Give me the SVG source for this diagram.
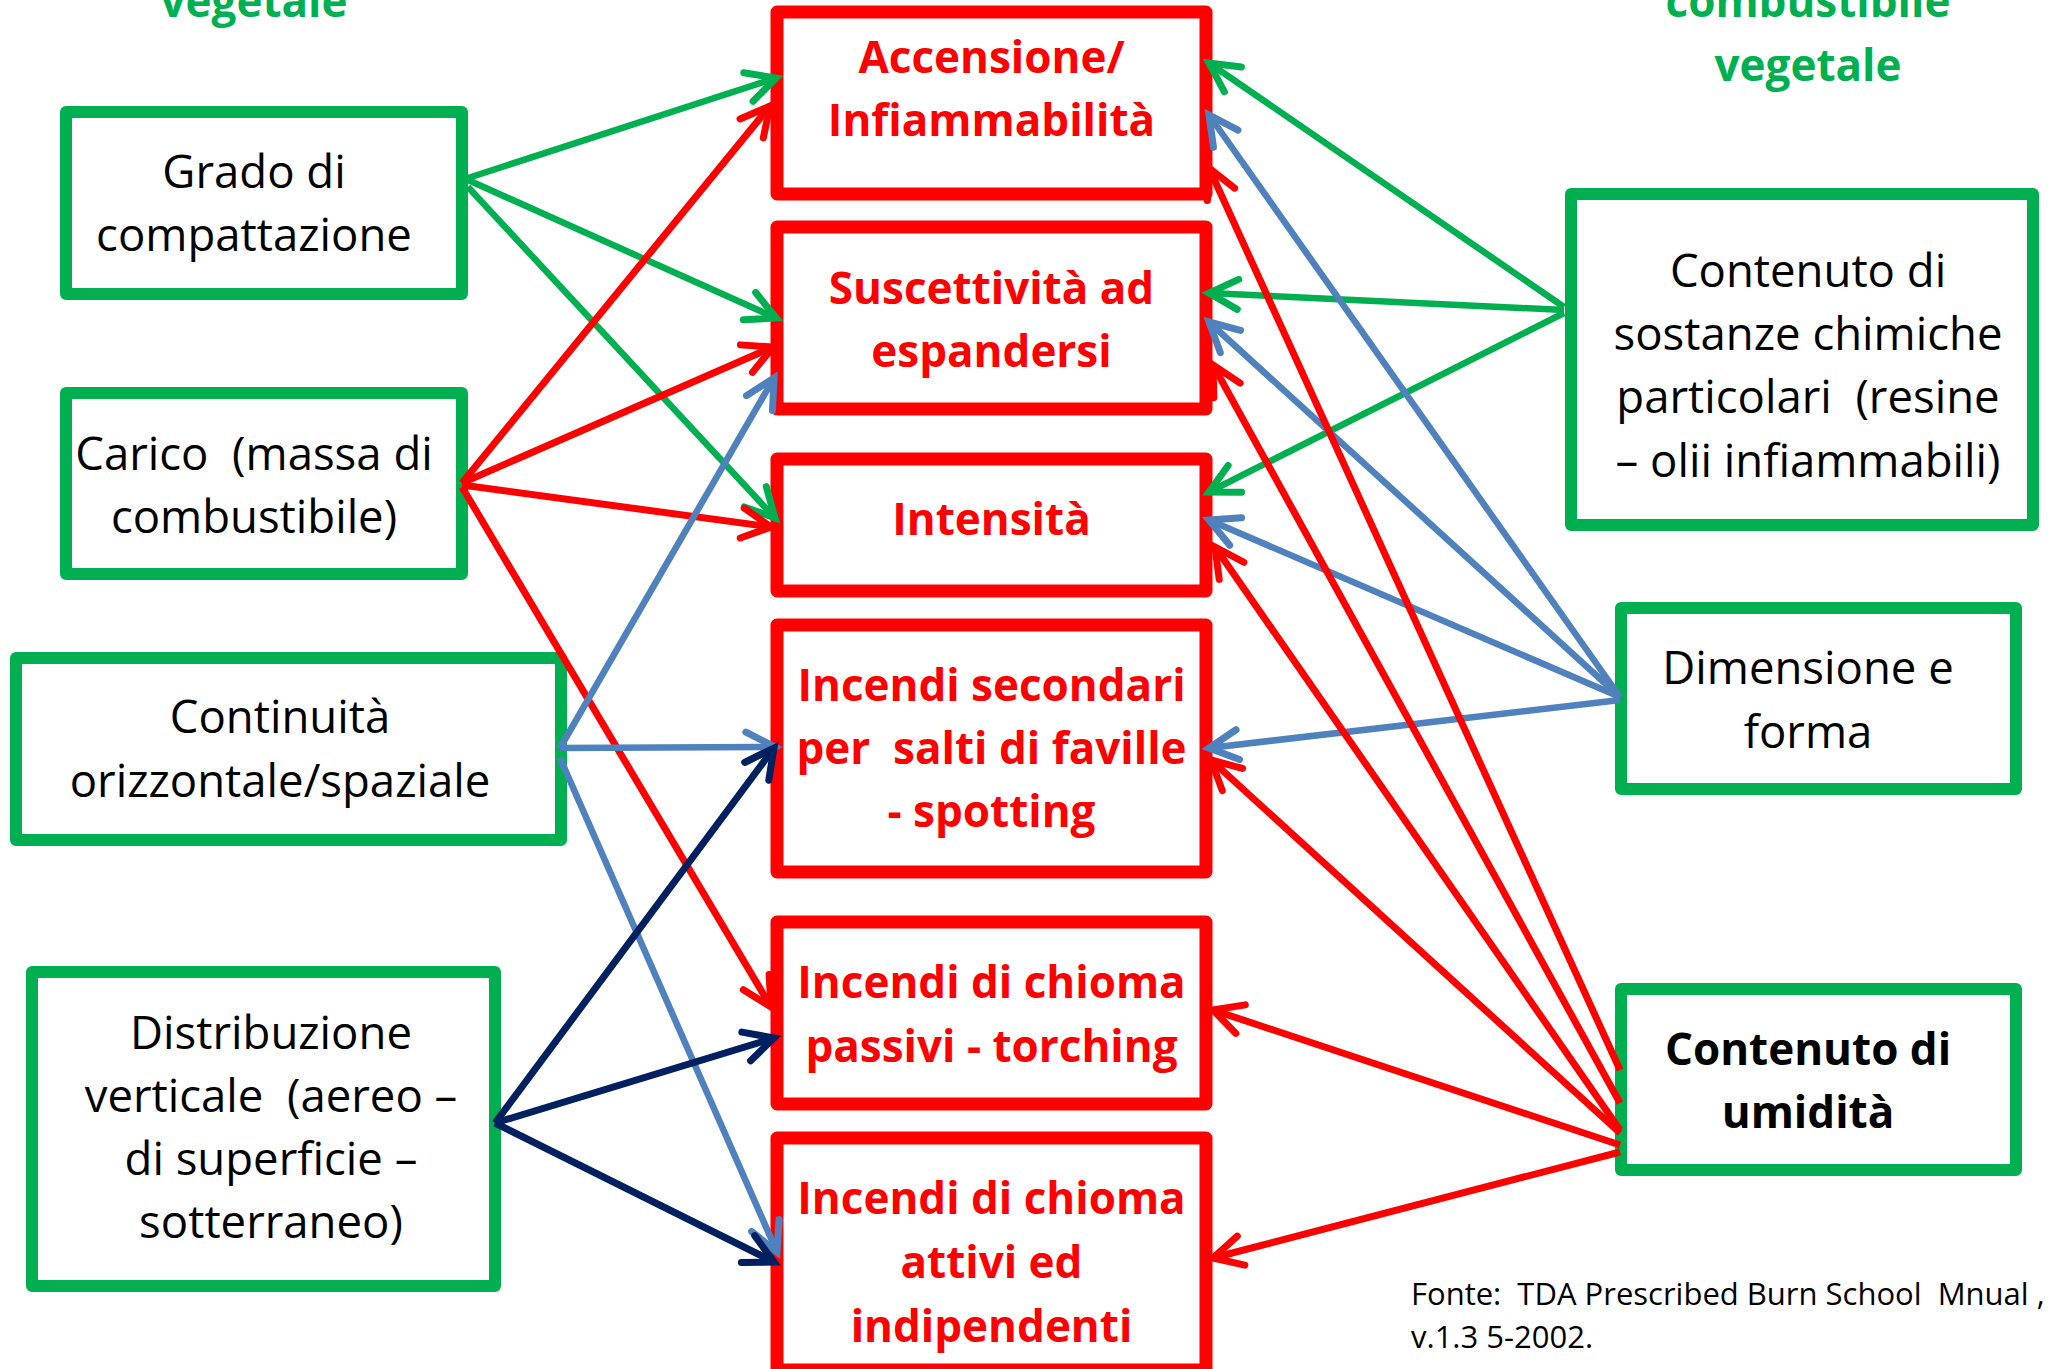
<svg xmlns="http://www.w3.org/2000/svg" width="2051" height="1369" viewBox="0 0 2051 1369">
<style>
.bg{fill:#ffffff}
.gbox{fill:#ffffff;stroke:#00B050;stroke-width:12;stroke-linejoin:round}
.rbox{fill:#ffffff;stroke:#FF0000;stroke-width:13;stroke-linejoin:round}
.t{font-family:"Open Sans","Noto Sans","Liberation Sans",sans-serif;font-size:45.5px;fill:#000000;text-anchor:middle}
.tr{font-family:"Open Sans","Noto Sans","Liberation Sans",sans-serif;font-size:44px;font-weight:bold;fill:#FF0000;text-anchor:middle}
.tb{font-family:"Open Sans","Noto Sans","Liberation Sans",sans-serif;font-size:44px;font-weight:bold;fill:#000000;text-anchor:middle}
.th{font-family:"Open Sans","Noto Sans","Liberation Sans",sans-serif;font-size:44px;font-weight:bold;fill:#00B050;text-anchor:middle}
.src{font-family:"Open Sans","Noto Sans","Liberation Sans",sans-serif;font-size:31px;fill:#000000}
.cg{stroke:#00B050;stroke-width:6.5;fill:none;marker-end:url(#ag)}
.cr{stroke:#FF0000;stroke-width:7;fill:none;marker-end:url(#ar)}
.cb{stroke:#4F81BD;stroke-width:6.5;fill:none;marker-end:url(#ab)}
.cn{stroke:#002060;stroke-width:7;fill:none;marker-end:url(#an)}
</style>
<defs>
<marker id="ag" markerUnits="userSpaceOnUse" orient="auto" refX="0" refY="0" markerWidth="1" markerHeight="1" style="overflow:visible"><path d="M-29,-15 L0,0 L-29,15" fill="none" stroke="#00B050" stroke-width="7" stroke-linecap="round" stroke-linejoin="miter"/></marker>
<marker id="ar" markerUnits="userSpaceOnUse" orient="auto" refX="0" refY="0" markerWidth="1" markerHeight="1" style="overflow:visible"><path d="M-29,-15 L0,0 L-29,15" fill="none" stroke="#FF0000" stroke-width="7" stroke-linecap="round" stroke-linejoin="miter"/></marker>
<marker id="ab" markerUnits="userSpaceOnUse" orient="auto" refX="0" refY="0" markerWidth="1" markerHeight="1" style="overflow:visible"><path d="M-29,-15 L0,0 L-29,15" fill="none" stroke="#4F81BD" stroke-width="7" stroke-linecap="round" stroke-linejoin="miter"/></marker>
<marker id="an" markerUnits="userSpaceOnUse" orient="auto" refX="0" refY="0" markerWidth="1" markerHeight="1" style="overflow:visible"><path d="M-29,-15 L0,0 L-29,15" fill="none" stroke="#002060" stroke-width="7" stroke-linecap="round" stroke-linejoin="miter"/></marker>
</defs>
<rect class="bg" x="0" y="0" width="2051" height="1369"/>

<g id="header-left">
<text class="th" x="254" y="17">vegetale</text>
</g>
<g id="header-right">
<text class="th" x="1808" y="17">combustibile</text>
<text class="th" x="1808" y="81">vegetale</text>
</g>

<g id="grado">
<rect class="gbox" x="66" y="112" width="396" height="182"/>
<text class="t" x="254" y="188">Grado di</text>
<text class="t" x="254" y="251">compattazione</text>
</g>
<g id="carico">
<rect class="gbox" x="66" y="393" width="396" height="181"/>
<text class="t" x="254" y="470" xml:space="preserve">Carico  (massa di</text>
<text class="t" x="254" y="533">combustibile)</text>
</g>
<g id="continuita">
<rect class="gbox" x="16" y="658" width="545" height="182"/>
<text class="t" x="280" y="733">Continuità</text>
<text class="t" x="280" y="797">orizzontale/spaziale</text>
</g>
<g id="distribuzione">
<rect class="gbox" x="32" y="972" width="463" height="314"/>
<text class="t" x="271" y="1049">Distribuzione</text>
<text class="t" x="271" y="1112" xml:space="preserve">verticale  (aereo –</text>
<text class="t" x="271" y="1175">di superficie –</text>
<text class="t" x="271" y="1238">sotterraneo)</text>
</g>

<g id="accensione">
<rect class="rbox" x="777" y="12" width="429" height="182"/>
<text class="tr" x="991.5" y="73">Accensione/</text>
<text class="tr" x="991.5" y="136">Infiammabilità</text>
</g>
<g id="suscettivita">
<rect class="rbox" x="777" y="227" width="429" height="182"/>
<text class="tr" x="991.5" y="304">Suscettività ad</text>
<text class="tr" x="991.5" y="367">espandersi</text>
</g>
<g id="intensita">
<rect class="rbox" x="777" y="459" width="429" height="132"/>
<text class="tr" x="991.5" y="535">Intensità</text>
</g>
<g id="secondari">
<rect class="rbox" x="777" y="625" width="429" height="247"/>
<text class="tr" x="991.5" y="701">Incendi secondari</text>
<text class="tr" x="991.5" y="764" xml:space="preserve">per  salti di faville</text>
<text class="tr" x="991.5" y="827">- spotting</text>
</g>
<g id="passivi">
<rect class="rbox" x="777" y="922" width="429" height="182"/>
<text class="tr" x="991.5" y="998">Incendi di chioma</text>
<text class="tr" x="991.5" y="1062">passivi - torching</text>
</g>
<g id="attivi">
<rect class="rbox" x="777" y="1138" width="429" height="232"/>
<text class="tr" x="991.5" y="1214">Incendi di chioma</text>
<text class="tr" x="991.5" y="1278">attivi ed</text>
<text class="tr" x="991.5" y="1342">indipendenti</text>
</g>

<g id="sostanze">
<rect class="gbox" x="1571" y="194" width="462" height="331"/>
<text class="t" x="1808" y="287">Contenuto di</text>
<text class="t" x="1808" y="350">sostanze chimiche</text>
<text class="t" x="1808" y="413" xml:space="preserve">particolari  (resine</text>
<text class="t" x="1808" y="477">– olii infiammabili)</text>
</g>
<g id="dimensione">
<rect class="gbox" x="1621" y="608" width="395" height="181"/>
<text class="t" x="1808" y="684">Dimensione e</text>
<text class="t" x="1808" y="748">forma</text>
</g>
<g id="umidita">
<rect class="gbox" x="1621" y="989" width="395" height="181"/>
<text class="tb" x="1808" y="1065">Contenuto di</text>
<text class="tb" x="1808" y="1128">umidità</text>
</g>

<g id="fonte">
<text class="src" x="1411" y="1305" xml:space="preserve">Fonte:  TDA Prescribed Burn School  Mnual ,</text>
<text class="src" x="1411" y="1348">v.1.3 5-2002.</text>
</g>

<g id="connectors">
<path class="cg" d="M468,178 L776,78"/>
<path class="cg" d="M468,180 L776,318"/>
<path class="cg" d="M468,187 L775,518"/>
<path class="cr" d="M462,483 L770,106"/>
<path class="cr" d="M462,483 L773,347"/>
<path class="cr" d="M462,485 L771,527"/>
<path class="cr" d="M462,487 L771,1007"/>
<path class="cb" d="M560,748 L774,378"/>
<path class="cb" d="M560,748 L775,747"/>
<path class="cb" d="M560,758 L777,1252"/>
<path class="cn" d="M495,1123 L774,748"/>
<path class="cn" d="M495,1123 L774,1038"/>
<path class="cn" d="M495,1123 L774,1262"/>
<path class="cg" d="M1564,307 L1209,63"/>
<path class="cg" d="M1564,310 L1209,293"/>
<path class="cg" d="M1564,313 L1209,492"/>
<path class="cb" d="M1620,697 L1209,115"/>
<path class="cb" d="M1620,697 L1209,322"/>
<path class="cb" d="M1620,697 L1209,520"/>
<path class="cb" d="M1620,700 L1209,748"/>
<path class="cr" d="M1620,1070 L1209,168"/>
<path class="cr" d="M1620,1103 L1213,365"/>
<path class="cr" d="M1620,1130 L1215,547"/>
<path class="cr" d="M1620,1133 L1211,760"/>
<path class="cr" d="M1620,1145 L1213,1010"/>
<path class="cr" d="M1620,1152 L1213,1258"/>
</g>
</svg>
